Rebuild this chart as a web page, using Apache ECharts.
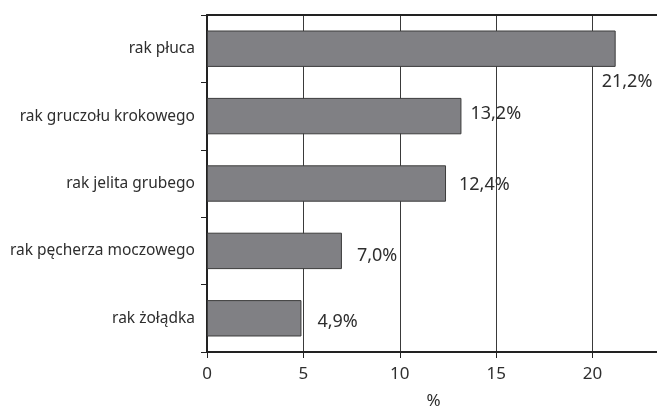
<!DOCTYPE html>
<html>
<head>
<meta charset="utf-8">
<script src="https://cdn.jsdelivr.net/npm/echarts@6/dist/echarts.min.js"></script>
<style>
  html, body { margin: 0; padding: 0; background: #fff; }
  #chart { width: 657px; height: 407px; }
</style>
</head>
<body>
<div id="chart"></div>
<script>
// Najczęstsze nowotwory złośliwe (%)
const categories = [
  'rak płuca',
  'rak gruczołu krokowego',
  'rak jelita grubego',
  'rak pęcherza moczowego',
  'rak żołądka'
];
const values = [21.2, 13.2, 12.4, 7.0, 4.9];
const xTicks = [0, 5, 10, 15, 20];

// hand-placed label nudges [dx, dy], one per bar
const labelNudges = [[-14, 33], [9, -2], [13, 1], [15, 5], [16, 4]];

const fmt = v => v.toFixed(1).replace('.', ',') + '%';
const ink = '#2e2e2e';
const font = 'Noto Sans';

const chart = echarts.init(document.getElementById('chart'), null, { renderer: 'canvas' });

chart.setOption({
  animation: false,
  backgroundColor: '#ffffff',
  textStyle: { fontFamily: font },
  grid: {
    left: 207, right: -3, top: 15, bottom: 55,
    containLabel: false,
    outerBoundsMode: 'none'
  },
  xAxis: [
    {
      type: 'value',
      min: 0,
      max: 23.5,
      interval: 5,
      position: 'bottom',
      name: '%',
      nameLocation: 'middle',
      nameGap: 41,
      nameTextStyle: { color: ink, fontSize: 17, fontFamily: font },
      axisLine: { show: true, lineStyle: { color: '#222', width: 2 } },
      axisTick: { show: true, length: 6, lineStyle: { color: '#222', width: 1 } },
      axisLabel: {
        color: ink, fontSize: 17, fontFamily: font, margin: 14,
        showMaxLabel: false,
        formatter: v => (xTicks.includes(v) ? String(v) : '')
      },
      splitLine: { show: true, lineStyle: { color: '#3a3a3a', width: 1 } }
    },
    {
      type: 'value',
      min: 0,
      max: 23.5,
      interval: 5,
      position: 'top',
      axisLine: { show: true, lineStyle: { color: '#222', width: 2 } },
      axisTick: { show: false },
      axisLabel: { show: false },
      splitLine: { show: false }
    }
  ],
  yAxis: {
    type: 'category',
    data: categories,
    inverse: true,
    axisLine: { show: true, lineStyle: { color: '#222', width: 2 } },
    axisTick: { show: true, length: 6, alignWithLabel: false, lineStyle: { color: '#222', width: 1 } },
    axisLabel: { color: ink, fontSize: 15.5, fontFamily: font, margin: 12 },
    splitLine: { show: false }
  },
  series: [{
    type: 'bar',
    xAxisIndex: 0,
    barWidth: '54%',
    data: values.map((v, i) => ({
      value: v,
      label: { offset: labelNudges[i] }
    })),
    itemStyle: { color: '#808084', borderColor: '#3c3c3c', borderWidth: 1 },
    label: {
      show: true,
      position: 'right',
      distance: 0,
      color: ink,
      fontSize: 18,
      fontFamily: font,
      formatter: p => fmt(p.value)
    }
  }]
});
</script>
</body>
</html>
